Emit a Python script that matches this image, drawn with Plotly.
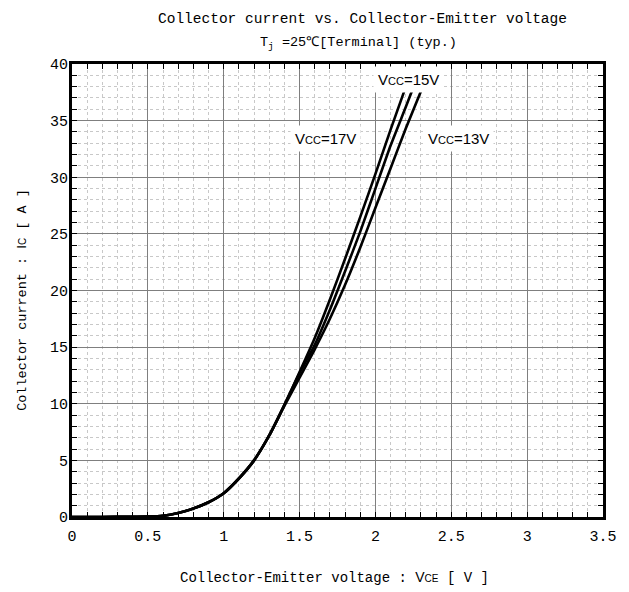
import plotly.graph_objects as go

# ---- data ----
vce_17 = [0, 0.2, 0.4, 0.5, 0.6, 0.7, 0.8, 0.9, 1.0, 1.1, 1.2, 1.3, 1.4, 1.5, 1.6, 1.7, 1.8, 1.9, 2.0, 2.1, 2.19]
ic_17 = [0, 0, 0.02, 0.03, 0.1, 0.35, 0.75, 1.3, 2.1, 3.4, 5.0, 7.2, 9.9, 12.8, 15.8, 19.2, 22.8, 26.5, 30.3, 34.2, 37.6]

vce_15 = [0, 0.2, 0.4, 0.5, 0.6, 0.7, 0.8, 0.9, 1.0, 1.1, 1.2, 1.3, 1.4, 1.5, 1.6, 1.7, 1.8, 1.9, 2.0, 2.1, 2.2, 2.24]
ic_15 = [0, 0, 0.02, 0.03, 0.1, 0.35, 0.75, 1.3, 2.1, 3.4, 5.0, 7.2, 9.9, 12.7, 15.2, 18.3, 21.7, 25.2, 29.0, 32.8, 36.2, 37.6]

vce_13 = [0, 0.2, 0.4, 0.5, 0.6, 0.7, 0.8, 0.9, 1.0, 1.1, 1.2, 1.3, 1.4, 1.5, 1.6, 1.7, 1.8, 1.9, 2.0, 2.1, 2.2, 2.3]
ic_13 = [0, 0, 0.02, 0.03, 0.1, 0.35, 0.75, 1.3, 2.1, 3.4, 5.0, 7.2, 9.8, 12.3, 14.8, 17.5, 20.5, 23.8, 27.3, 30.8, 34.3, 37.6]

x_ticks = [0, 0.5, 1, 1.5, 2, 2.5, 3, 3.5]
x_tick_labels = ["0", "0.5", "1", "1.5", "2", "2.5", "3", "3.5"]
y_ticks = [0, 5, 10, 15, 20, 25, 30, 35, 40]

labels = ["V<span style='font-size:11px'>CC</span>=17V",
          "V<span style='font-size:11px'>CC</span>=15V",
          "V<span style='font-size:11px'>CC</span>=13V"]
label_x = [1.674, 2.218, 2.548]
label_y = [33.4, 38.6, 33.4]

title_line1 = "Collector current vs. Collector-Emitter voltage"
title_line2 = "T<sub>j</sub> =25℃[Terminal] (typ.)"
x_title = "Collector-Emitter voltage : <span style='font-family:Liberation Sans'>V<span style='font-size:10px'>CE</span></span> [ V ]"
y_title = "Collector current : <span style='font-family:Liberation Sans'>I<span style='font-size:10px'>C</span></span> [ A ]"

MONO = "Liberation Mono"
SANS = "Liberation Sans"

fig = go.Figure()
for xs, ys in [(vce_17, ic_17), (vce_15, ic_15), (vce_13, ic_13)]:
    fig.add_trace(go.Scatter(x=xs, y=ys, mode="lines",
                             line=dict(color="black", width=2.6, shape="spline", smoothing=0.6),
                             showlegend=False, hoverinfo="skip"))

for t, xx, yy in zip(labels, label_x, label_y):
    fig.add_annotation(x=xx, y=yy, text=t, showarrow=False,
                       font=dict(family=SANS, size=15, color="black"),
                       bgcolor="white", borderpad=4)

# titles as paper-anchored texts
fig.add_annotation(xref="paper", yref="paper", x=0.548, y=1.10, text=title_line1,
                   showarrow=False, xanchor="center", yanchor="middle",
                   font=dict(family=MONO, size=14.5, color="black"))
fig.add_annotation(xref="paper", yref="paper", x=0.540, y=1.045, text=title_line2,
                   showarrow=False, xanchor="center", yanchor="middle",
                   font=dict(family=MONO, size=13.5, color="black"))
fig.add_annotation(xref="paper", yref="paper", x=0.495, y=-0.1325, text=x_title,
                   showarrow=False, xanchor="center", yanchor="middle",
                   font=dict(family=MONO, size=14, color="black"))
fig.add_annotation(xref="paper", yref="paper", x=-0.0945, y=0.479, text=y_title,
                   showarrow=False, xanchor="center", yanchor="middle", textangle=-90,
                   font=dict(family=MONO, size=13.5, color="black"))

axis_common = dict(
    showline=True, linecolor="black", linewidth=3, mirror="allticks",
    showgrid=True, gridcolor="#7f7f7f", gridwidth=1.2, automargin=False,
    zeroline=False, ticks="inside", ticklen=0, tickcolor="black",
    tickfont=dict(family=MONO, size=15, color="black"),
)

fig.update_xaxes(**axis_common, range=[0, 3.5], tickvals=x_ticks, ticktext=x_tick_labels,
                 ticklabelstandoff=3,
                 minor=dict(dtick=0.1, showgrid=True, gridcolor="#c8c8c8", griddash="dot",
                            gridwidth=1, ticks="inside", ticklen=5, tickcolor="black"))
fig.update_yaxes(**axis_common, range=[0, 40], tickvals=y_ticks,
                 ticklabelstandoff=-2,
                 minor=dict(dtick=1, showgrid=True, gridcolor="#c8c8c8", griddash="dot",
                            gridwidth=1, ticks="inside", ticklen=5, tickcolor="black"))

fig.update_layout(
    width=629, height=592,
    margin=dict(l=72, r=26, t=64, b=75),
    paper_bgcolor="white", plot_bgcolor="white",
)

fig.write_html("out.html", config={"displayModeBar": False},
               post_script="document.body.style.margin='0px';")
